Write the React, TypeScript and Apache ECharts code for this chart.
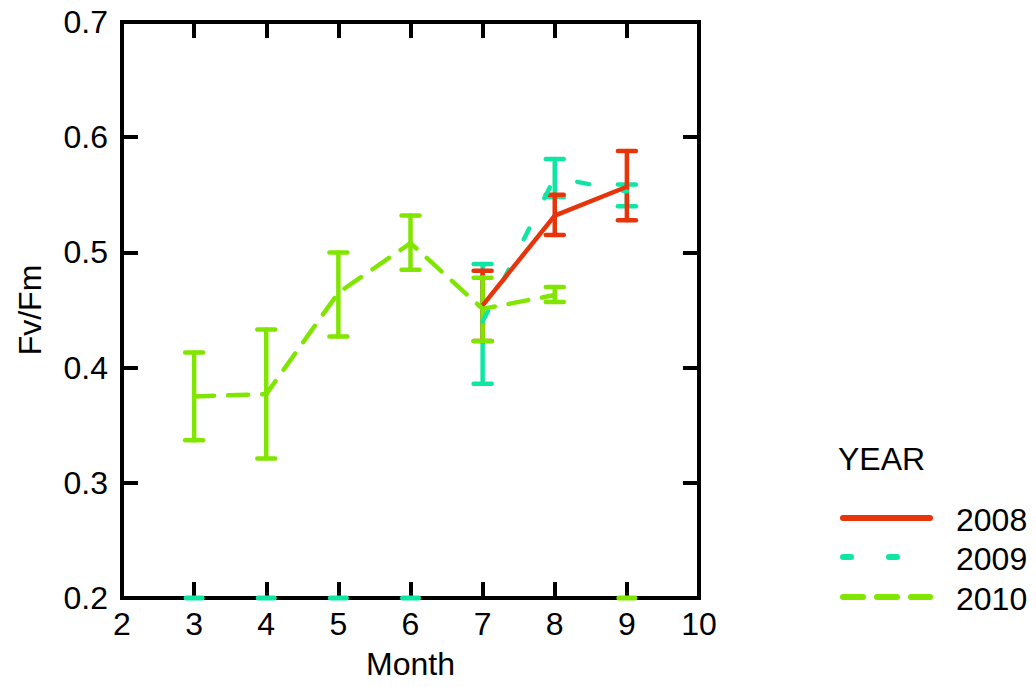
import React, { useEffect, useRef } from "react";
import * as echarts from "echarts";

// Monthly Fv/Fm means with error bars (low/high) per year
const months2008 = [7, 8, 9];
const mean2008 = [0.454, 0.532, 0.557];
const low2008 = [0.423, 0.515, 0.528];
const high2008 = [0.484, 0.55, 0.588];

const months2009 = [7, 8, 9];
const mean2009 = [0.44, 0.565, 0.553];
const low2009 = [0.386, 0.548, 0.54];
const high2009 = [0.49, 0.581, 0.559];

const months2010 = [3, 4, 5, 6, 7, 8];
const mean2010 = [0.375, 0.377, 0.465, 0.508, 0.451, 0.463];
const low2010 = [0.337, 0.321, 0.427, 0.485, 0.423, 0.457];
const high2010 = [0.413, 0.433, 0.5, 0.532, 0.478, 0.47];

// Months where the year has no measurement (shown on the axis floor)
const empty2009 = [3, 4, 5, 6];
const empty2010 = [9];

const xTicks = [2, 3, 4, 5, 6, 7, 8, 9, 10];
const yTicks = [0.2, 0.3, 0.4, 0.5, 0.6, 0.7];

const RED = "#e8340a";
const TEAL = "#10e6a4";
const GREEN = "#80e600";
const FONT = "Liberation Sans, Arial, sans-serif";
const DASH_2009 = [12, 34];
const DASH_2010 = [20, 14];

const zip = (xs: number[], ys: number[]) => xs.map((x, i) => [x, ys[i]]);
const bars = (xs: number[], lo: number[], hi: number[]) =>
  xs.map((x, i) => [x, lo[i], hi[i]]);

function errorBarSeries(name: string, color: string, data: number[][]) {
  return {
    type: "custom",
    name,
    z: 3,
    data,
    encode: { x: 0, y: [1, 2] },
    renderItem: (_p: any, api: any) => {
      const x = api.value(0);
      const a = api.coord([x, api.value(1)]);
      const b = api.coord([x, api.value(2)]);
      const half = 9;
      const style = { stroke: color, lineWidth: 4.5, lineCap: "round" };
      return {
        type: "group",
        children: [
          { type: "line", shape: { x1: a[0], y1: a[1], x2: b[0], y2: b[1] }, style },
          { type: "line", shape: { x1: a[0] - half, y1: a[1], x2: a[0] + half, y2: a[1] }, style },
          { type: "line", shape: { x1: b[0] - half, y1: b[1], x2: b[0] + half, y2: b[1] }, style },
        ],
      };
    },
  };
}

function floorMarkSeries(color: string, xs: number[]) {
  return {
    type: "custom",
    z: 4,
    data: xs.map((x) => [x, yTicks[0]]),
    encode: { x: 0, y: 1 },
    renderItem: (_p: any, api: any) => {
      const p = api.coord([api.value(0), api.value(1)]);
      return {
        type: "line",
        shape: { x1: p[0] - 8, y1: p[1], x2: p[0] + 8, y2: p[1] },
        style: { stroke: color, lineWidth: 5, lineCap: "round" },
      };
    },
  };
}

function lineSeries(name: string, color: string, data: number[][], type: any) {
  return {
    type: "line",
    name,
    z: 3,
    data,
    symbol: "none",
    lineStyle: { color, width: 4.5, type, cap: "round" },
  };
}

export default function App() {
  const ref = useRef<HTMLDivElement>(null);

  useEffect(() => {
    if (!ref.current) return;
    document.body.style.margin = "0";
    const chart = echarts.init(ref.current, undefined, { renderer: "svg" });

    const tickStyle = { show: true, inside: true, length: 16, lineStyle: { color: "#000", width: 4 } };
    const labelStyle = { color: "#000", fontSize: 32, fontFamily: FONT };

    const legendItems = [
      { label: "2008", color: RED, dash: null as any, y: 518 },
      { label: "2009", color: TEAL, dash: [8, 38], y: 557 },
      { label: "2010", color: GREEN, dash: [20, 14], y: 597 },
    ];

    const graphics: any[] = [
      {
        type: "text",
        style: {
          x: 838,
          y: 459,
          text: "YEAR",
          fill: "#000",
          font: `32px ${FONT}`,
          verticalAlign: "middle",
        },
      },
    ];
    legendItems.forEach((it) => {
      graphics.push({
        type: "line",
        shape: { x1: 843, y1: it.y, x2: 930, y2: it.y },
        style: {
          stroke: it.color,
          lineWidth: 6,
          lineCap: "round",
          lineDash: it.dash || undefined,
        },
      });
      graphics.push({
        type: "text",
        style: {
          x: 956,
          y: it.y + 2,
          text: it.label,
          fill: "#000",
          font: `32px ${FONT}`,
          verticalAlign: "middle",
        },
      });
    });

    chart.setOption({
      animation: false,
      backgroundColor: "#fff",
      grid: {
        left: 122,
        right: 337,
        top: 22,
        bottom: 89,
        show: true,
        borderColor: "#000",
        borderWidth: 4,
        backgroundColor: "transparent",
      },
      xAxis: [
        {
          type: "value",
          min: xTicks[0],
          max: xTicks[xTicks.length - 1],
          interval: 1,
          name: "Month",
          nameLocation: "middle",
          nameGap: 50,
          nameTextStyle: { ...labelStyle },
          axisLine: { show: false },
          axisTick: tickStyle,
          axisLabel: { ...labelStyle, margin: 10 },
          splitLine: { show: false },
        },
        {
          type: "value",
          position: "top",
          min: xTicks[0],
          max: xTicks[xTicks.length - 1],
          interval: 1,
          axisLine: { show: false },
          axisTick: tickStyle,
          axisLabel: { show: false },
          splitLine: { show: false },
        },
      ],
      yAxis: [
        {
          type: "value",
          min: yTicks[0],
          max: yTicks[yTicks.length - 1],
          interval: 0.1,
          name: "Fv/Fm",
          nameLocation: "middle",
          nameGap: 76,
          nameRotate: 90,
          nameTextStyle: { ...labelStyle },
          axisLine: { show: false },
          axisTick: tickStyle,
          axisLabel: { ...labelStyle, margin: 14, formatter: (v: number) => v.toFixed(1) },
          splitLine: { show: false },
        },
        {
          type: "value",
          position: "right",
          min: yTicks[0],
          max: yTicks[yTicks.length - 1],
          interval: 0.1,
          axisLine: { show: false },
          axisTick: tickStyle,
          axisLabel: { show: false },
          splitLine: { show: false },
        },
      ],
      graphic: graphics,
      series: [
        floorMarkSeries(TEAL, empty2009),
        floorMarkSeries(GREEN, empty2010),
        errorBarSeries("2009", TEAL, bars(months2009, low2009, high2009)),
        lineSeries("2009", TEAL, zip(months2009, mean2009), DASH_2009),
        errorBarSeries("2008", RED, bars(months2008, low2008, high2008)),
        lineSeries("2008", RED, zip(months2008, mean2008), "solid"),
        errorBarSeries("2010", GREEN, bars(months2010, low2010, high2010)),
        lineSeries("2010", GREEN, zip(months2010, mean2010), DASH_2010),
      ],
    });

    return () => chart.dispose();
  }, []);

  return <div ref={ref} style={{ width: 1036, height: 687 }} />;
}
